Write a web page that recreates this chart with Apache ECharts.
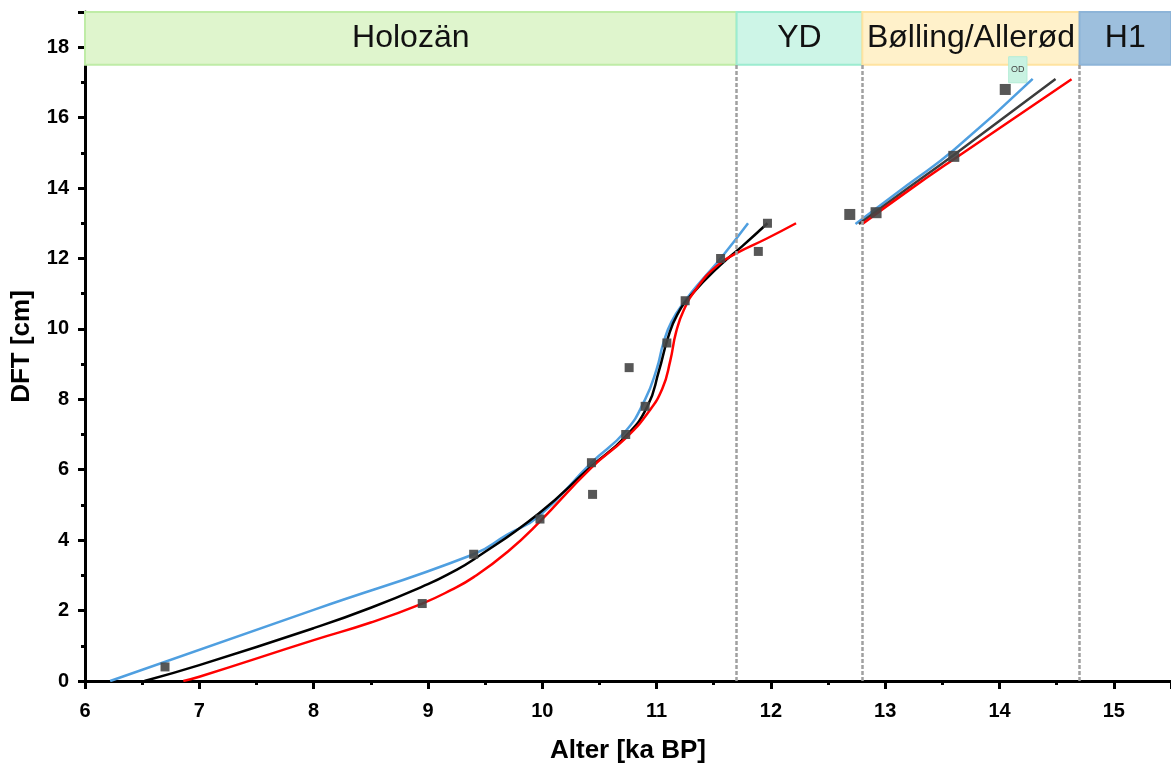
<!DOCTYPE html>
<html>
<head>
<meta charset="utf-8">
<script src="https://cdn.jsdelivr.net/npm/echarts@6/dist/echarts.min.js"></script>
<style>
  html, body { margin: 0; padding: 0; background: #fff; }
  #chart { width: 1171px; height: 765px; }
</style>
</head>
<body>
<div id="chart"></div>
<script>
// Datenpunkte (Alter ka BP, DFT cm)
const pointAge = [6.7, 8.95, 9.4, 9.98, 10.44, 10.43, 10.73, 10.9, 10.76, 11.09, 11.25, 11.56, 11.89, 11.97, 12.69, 12.92, 13.6, 14.05];
const pointDft = [0.4, 2.2, 3.6, 4.6, 5.3, 6.2, 7.0, 7.8, 8.9, 9.6, 10.8, 12.0, 12.2, 13.0, 13.25, 13.3, 14.9, 16.8];

// Altersmodelle Holozän-Abschnitt
const blueHoloAge = [6.22, 8.0, 9.4, 9.69, 9.97, 10.43, 10.73, 10.9, 11.0, 11.06, 11.13, 11.25, 11.4, 11.56, 11.8];
const blueHoloDft = [0, 2.02, 3.6, 4.15, 4.68, 6.2, 7.1, 8.0, 8.85, 9.6, 10.2, 10.8, 11.4, 12.0, 13.0];
const blackHoloAge = [6.52, 7.0, 8.0, 8.5, 9.0, 9.2, 9.4, 9.97, 10.43, 10.73, 10.92, 11.02, 11.1, 11.18, 11.3, 11.56, 11.75, 11.97];
const blackHoloDft = [0, 0.45, 1.5, 2.08, 2.75, 3.07, 3.45, 4.76, 6.1, 6.95, 7.8, 8.8, 9.75, 10.4, 10.95, 11.82, 12.35, 13.0];
const redHoloAge = [6.86, 7.0, 8.0, 8.5, 8.95, 9.2, 9.4, 9.7, 9.97, 10.43, 10.73, 10.92, 11.05, 11.12, 11.17, 11.24, 11.35, 11.52, 11.7, 11.96, 12.22];
const redHoloDft = [0, 0.12, 1.16, 1.66, 2.2, 2.58, 2.95, 3.68, 4.5, 6.06, 6.9, 7.6, 8.3, 9.1, 9.9, 10.55, 11.15, 11.77, 12.15, 12.56, 13.0];

// Altersmodelle Bølling/Allerød-Abschnitt
const blueBaAge = [12.74, 13.2, 13.6, 14.29];
const blueBaDft = [12.98, 14.1, 15.08, 17.1];
const blackBaAge = [12.77, 13.2, 13.6, 14.49];
const blackBaDft = [12.98, 14.0, 14.94, 17.1];
const redBaAge = [12.8, 13.2, 13.6, 14.63];
const redBaDft = [12.98, 13.92, 14.82, 17.09];

// Klimaphasen (oben)
const phaseNames = ['Holozän', 'YD', 'Bølling/Allerød', 'H1'];
const phaseStart = [6, 11.7, 12.8, 14.7];
const phaseEnd = [11.7, 12.8, 14.7, 15.5];
const phaseFill = ['#dff5cd', '#cdf5e7', '#fff1ca', '#9dbfdd'];
const phaseBorder = ['#bfeca6', '#9cecd0', '#ffe3a0', '#8db4d8'];
const boundaryAge = [11.7, 12.8, 14.7];

// kleine OD-Box
const odName = 'OD';
const odAge = [14.08, 14.24];
const odDft = [16.99, 17.73];

function pairs(xs, ys) {
    return xs.map((x, i) => [x, ys[i]]);
}

const myChart = echarts.init(document.getElementById('chart'));
const fontFamily = '"Liberation Sans", Arial, sans-serif';

function curve(name, xs, ys, color) {
    return {
        name: name,
        type: 'line',
        data: pairs(xs, ys),
        smooth: 0.5,
        showSymbol: false,
        symbol: 'none',
        lineStyle: { color: color, width: 2.5 },
        z: 3,
        silent: true
    };
}

let option;
option = {
    animation: false,
    backgroundColor: '#fff',
    grid: { left: 85, right: 0, top: 12, bottom: 84, outerBoundsMode: 'none' },
    xAxis: {
        type: 'value',
        min: 6,
        max: 15.5,
        interval: 1,
        name: 'Alter [ka BP]',
        nameLocation: 'middle',
        nameGap: 57,
        nameTextStyle: { fontFamily: fontFamily, fontSize: 26, fontWeight: 'bold', color: '#000' },
        axisLine: { lineStyle: { color: '#000', width: 3 } },
        axisTick: { inside: false, length: 8, lineStyle: { color: '#000', width: 3 } },
        minorTick: { show: true, splitNumber: 2, length: 4, lineStyle: { color: '#000', width: 3 } },
        axisLabel: { margin: 20, showMaxLabel: false, fontFamily: fontFamily, fontSize: 20, fontWeight: 'bold', color: '#000' },
        splitLine: { show: false }
    },
    yAxis: {
        type: 'value',
        min: 0,
        max: 19,
        interval: 2,
        name: 'DFT [cm]',
        nameLocation: 'middle',
        nameGap: 50,
        nameTextStyle: { fontFamily: fontFamily, fontSize: 26, fontWeight: 'bold', color: '#000' },
        axisLine: { show: true, lineStyle: { color: '#000', width: 3 } },
        axisTick: { show: true, inside: false, length: 7, lineStyle: { color: '#000', width: 3 } },
        minorTick: { show: true, splitNumber: 2, length: 4, lineStyle: { color: '#000', width: 3 } },
        axisLabel: { margin: 16, showMaxLabel: false, fontFamily: fontFamily, fontSize: 20, fontWeight: 'bold', color: '#000' },
        splitLine: { show: false }
    },
    series: [
        {
            // Hilfsserie für Phasen-Balken und Grenzlinien
            name: 'phasen',
            type: 'scatter',
            data: [],
            silent: true,
            markArea: {
                silent: true,
                label: { show: true, position: 'inside', fontFamily: fontFamily, fontSize: 32, color: '#111' },
                data: phaseNames.map((n, i) => [
                    {
                        name: n,
                        coord: [phaseStart[i], 17.5],
                        itemStyle: { color: phaseFill[i], borderColor: phaseBorder[i], borderWidth: 2 }
                    },
                    { coord: [phaseEnd[i], 19] }
                ]).concat([[
                    {
                        name: odName,
                        coord: [odAge[0], odDft[0]],
                        itemStyle: { color: '#c9f2e2', borderColor: '#b5ecd6', borderWidth: 1 },
                        label: { fontSize: 9, color: '#444' }
                    },
                    { coord: [odAge[1], odDft[1]] }
                ]])
            },
            markLine: {
                silent: true,
                symbol: 'none',
                label: { show: false },
                lineStyle: { color: '#a0a0a0', width: 2.5, type: [4, 2] },
                data: boundaryAge.map(a => [{ coord: [a, 0] }, { coord: [a, 17.5] }])
            }
        },
        curve('blau', blueHoloAge, blueHoloDft, '#4f9fe0'),
        curve('schwarz', blackHoloAge, blackHoloDft, '#000000'),
        curve('rot', redHoloAge, redHoloDft, '#ff0000'),
        curve('blau BA', blueBaAge, blueBaDft, '#4f9fe0'),
        curve('schwarz BA', blackBaAge, blackBaDft, '#3c3c3c'),
        curve('rot BA', redBaAge, redBaDft, '#ff0000'),
        {
            name: 'Proben',
            type: 'scatter',
            data: pairs(pointAge, pointDft),
            symbol: 'rect',
            symbolSize: (v) => (v[0] > 12.5 ? 11 : 9),
            itemStyle: { color: '#454545', opacity: 0.9 },
            z: 4
        }
    ]
};
option && myChart.setOption(option);
</script>
</body>
</html>
